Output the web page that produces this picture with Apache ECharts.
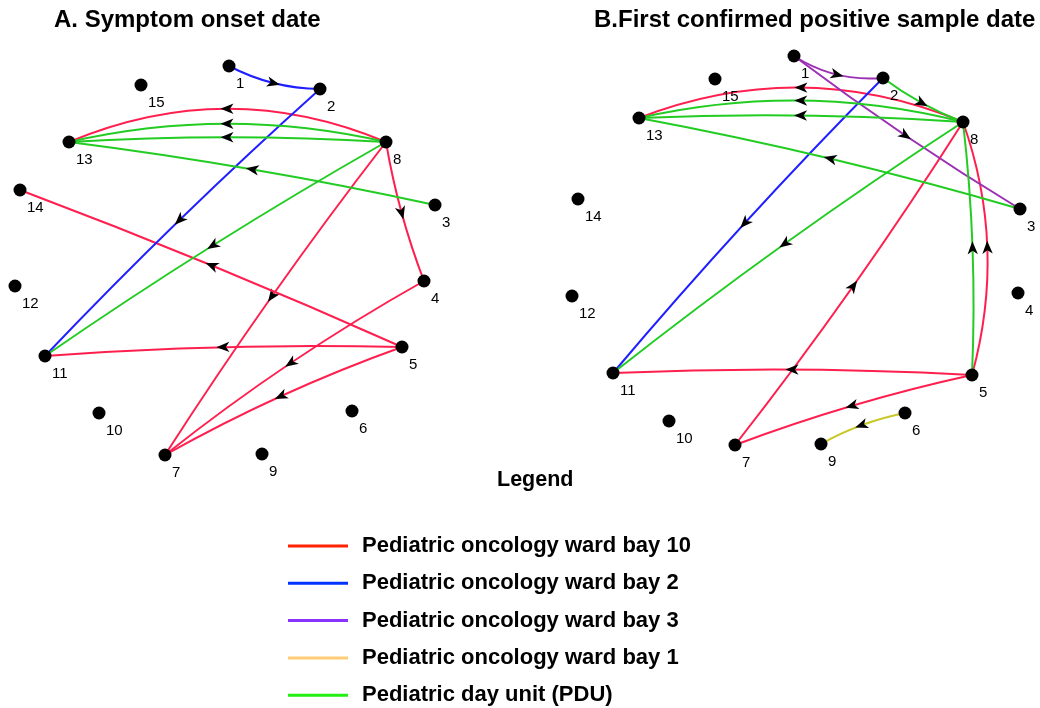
<!DOCTYPE html>
<html><head><meta charset="utf-8">
<script src="https://cdn.jsdelivr.net/npm/echarts@6/dist/echarts.min.js"></script>
<style>html,body{margin:0;padding:0;background:#fff}#main{width:1040px;height:708px}</style>
</head><body><div id="main"></div>
<script>
// Node identifiers (cases)
const nodeIds = ['1','2','3','4','5','6','7','8','9','10','11','12','13','14','15'];
// Network layout coordinates, panel A (symptom onset date)
const layoutAX = [229,320,435,424,402,352,165,386,262,99,45,15,69,20,141];
const layoutAY = [66,89,205,281,347,411,455,142,454,413,356,286,142,190,85];
// Network layout coordinates, panel B (first confirmed positive sample date)
const layoutBX = [274,363,500,498,452,385,215,443,301,149,93,52,119,58,195];
const layoutBY = [56,78,209,293,375,413,445,122,444,421,373,296,118,199,79];
// Transmission settings (edge categories)
const categories = ['Pediatric oncology ward bay 10','Pediatric oncology ward bay 2','Pediatric oncology ward bay 3','Pediatric oncology ward bay 1','Pediatric day unit (PDU)'];
// Edges: [source, target, category index]
const edgesA = [
  ['1','2',1],['2','11',1],
  ['8','13',0],['8','13',4],['8','13',4],['3','13',4],['8','11',4],
  ['8','4',0],['8','7',0],['5','14',0],['5','11',0],['4','7',0],['5','7',0]
];
const edgesB = [
  ['1','2',2],['1','3',2],['2','8',4],['2','11',1],
  ['8','13',0],['8','13',4],['8','13',4],['3','13',4],['8','11',4],
  ['7','8',0],['5','8',4],['5','8',0],['5','11',0],['5','7',0],['6','9',3]
];

// ---- styles ----
const bendA = [0.12,0.02,0.21,0.115,0.03,0.022,0.022,0.05,0.022,0.015,0.025,0.04,0.042];
const bendB = [0.17,0.025,0.07,0.02,0.2,0.12,0.028,0.025,0.023,0.025,0.04,0.157,0.025,0.036,0.08];
const edgeColors = ['#ff1f4f','#1f1fff','#9b30b4','#c8c828','#22cc22'];
const legendColors = ['#ff2200','#0033ff','#8833ff','#ffcc77','#22ee11'];
const FONT = 'Liberation Sans, Arial, sans-serif';

function renderEdge(params, api) {
  const p0 = api.coord([api.value(0), api.value(1)]);
  const p1 = api.coord([api.value(2), api.value(3)]);
  const k = api.value(4);
  const dx = p1[0]-p0[0], dy = p1[1]-p0[1];
  const L = Math.hypot(dx, dy);
  const ux = dx/L, uy = dy/L;
  const nx = -uy, ny = ux;
  const mx = (p0[0]+p1[0])/2, my = (p0[1]+p1[1])/2;
  const cx = mx + nx*k*L, cy = my + ny*k*L;
  const ax = 0.25*p0[0] + 0.5*cx + 0.25*p1[0];
  const ay = 0.25*p0[1] + 0.5*cy + 0.25*p1[1];
  const pts = [[7,0],[-6,5.2],[-2.5,0],[-6,-5.2]].map(function(q){
    return [ax + ux*q[0] + nx*q[1], ay + uy*q[0] + ny*q[1]];
  });
  return {type:'group', children:[
    {type:'bezierCurve', shape:{x1:p0[0],y1:p0[1],x2:p1[0],y2:p1[1],cpx1:cx,cpy1:cy},
     style:{stroke: api.visual('color'), fill:'none', lineWidth:2}},
    {type:'polygon', shape:{points:pts}, style:{fill:'#000'}}
  ]};
}

function edgeData(edges, bends, xs, ys, cat) {
  const out = [];
  edges.forEach(function(e, i){
    if (e[2] !== cat) return;
    const s = nodeIds.indexOf(e[0]), t = nodeIds.indexOf(e[1]);
    out.push([xs[s], ys[s], xs[t], ys[t], bends[i]]);
  });
  return out;
}

const panels = [
  {edges: edgesA, bends: bendA, xs: layoutAX, ys: layoutAY},
  {edges: edgesB, bends: bendB, xs: layoutBX, ys: layoutBY}
];

const series = [];
panels.forEach(function(p, pi){
  categories.forEach(function(c, ci){
    series.push({
      type:'custom', name:c, xAxisIndex:pi, yAxisIndex:pi,
      renderItem: renderEdge, clip:false, silent:true, z:2,
      itemStyle:{color: edgeColors[ci]},
      encode:{x:[0,2], y:[1,3]},
      data: edgeData(p.edges, p.bends, p.xs, p.ys, ci)
    });
  });
  series.push({
    type:'scatter', xAxisIndex:pi, yAxisIndex:pi, z:5, silent:true,
    symbol:'circle', symbolSize:13, itemStyle:{color:'#000', opacity:1},
    label:{show:true, formatter:'{b}', position:[13.5,24.5], align:'left', verticalAlign:'middle',
      fontSize:15, color:'#000', fontFamily:FONT},
    data: nodeIds.map(function(id, i){ return {name:id, value:[p.xs[i], p.ys[i]]}; })
  });
});

const chart = echarts.init(document.getElementById('main'), null, {renderer:'canvas'});
chart.setOption({
  backgroundColor:'#fff',
  animation:false,
  title:[
    {text:'A. Symptom onset date', left:54, top:8, padding:0,
     textStyle:{fontSize:24, fontWeight:'bold', color:'#000', fontFamily:FONT}},
    {text:'B.First confirmed positive sample date', left:594, top:8, padding:0,
     textStyle:{fontSize:24, fontWeight:'bold', color:'#000', fontFamily:FONT}},
    {text:'Legend', left:497, top:469, padding:0,
     textStyle:{fontSize:21.5, fontWeight:'bold', color:'#000', fontFamily:FONT}}
  ],
  legend:{
    orient:'vertical', left:288, top:535, padding:0,
    itemWidth:60, itemHeight:3, itemGap:15.3, icon:'rect', selectedMode:false,
    textStyle:{fontSize:22, fontWeight:'bold', color:'#000', fontFamily:FONT, lineHeight:22, padding:[0,0,0,9]},
    data: categories.map(function(c, i){ return {name:c, itemStyle:{color: legendColors[i]}}; })
  },
  grid:[
    {left:0, top:0, width:520, height:708},
    {left:520, top:0, width:520, height:708}
  ],
  xAxis:[
    {type:'value', min:0, max:520, show:false, gridIndex:0},
    {type:'value', min:0, max:520, show:false, gridIndex:1}
  ],
  yAxis:[
    {type:'value', min:0, max:708, inverse:true, show:false, gridIndex:0},
    {type:'value', min:0, max:708, inverse:true, show:false, gridIndex:1}
  ],
  series: series
});
</script></body></html>
